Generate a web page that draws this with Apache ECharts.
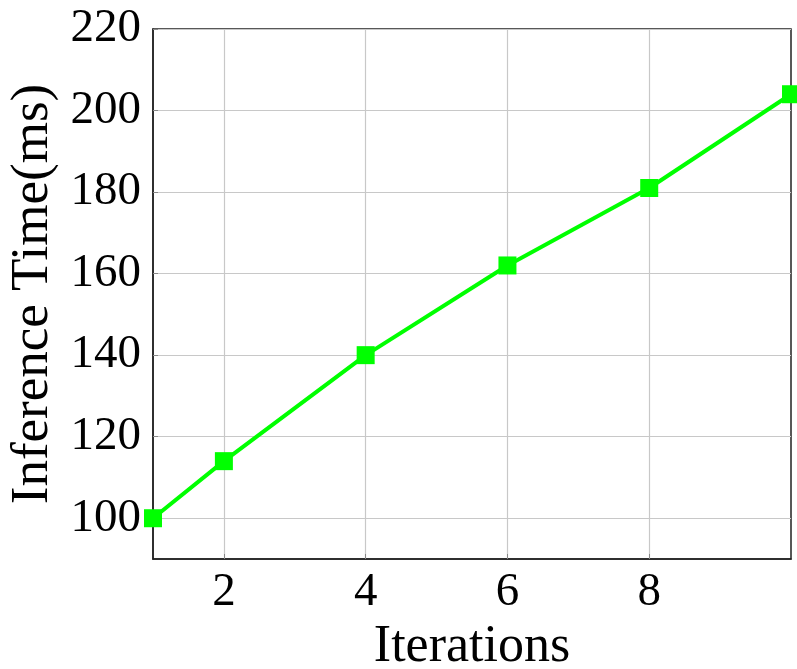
<!DOCTYPE html>
<html><head><meta charset="utf-8">
<script src="https://cdn.jsdelivr.net/npm/echarts@6/dist/echarts.min.js"></script>
<style>html,body{margin:0;padding:0;background:#fff}#c{width:797px;height:669px}</style>
</head><body><div id="c"></div>
<script>
const iterations = [1, 2, 4, 6, 8, 10];
const inferenceTime = [100, 114, 140, 162, 181, 204];
const xTicks = [2, 4, 6, 8];
const yTicks = [100, 120, 140, 160, 180, 200, 220];

const font = 'Liberation Serif';
const chart = echarts.init(document.getElementById('c'));
chart.setOption({
  animation: false,
  backgroundColor: '#fff',
  grid: { left: 153, right: 6, top: 29, bottom: 110, containLabel: false, outerBoundsMode: 'none', show: true, borderColor: '#222', borderWidth: 1.5, backgroundColor: 'transparent' },
  xAxis: {
    type: 'value', min: 1, max: 10,
    name: 'Iterations', nameLocation: 'middle', nameGap: 56,
    nameTextStyle: { fontFamily: font, fontSize: 52, color: '#000' },
    axisLine: { show: true, lineStyle: { color: '#222', width: 1.5 } },
    axisTick: { show: true, inside: true, length: 5, customValues: xTicks, lineStyle: { color: '#888' } },
    axisLabel: { customValues: xTicks, fontFamily: font, fontSize: 47, color: '#000', margin: 10 },
    splitLine: { show: true, lineStyle: { color: '#c8c8c8', width: 1.2 } }
  },
  yAxis: {
    type: 'value', min: 90, max: 220,
    name: 'Inference Time(ms)', nameLocation: 'middle', nameGap: 92,
    nameTextStyle: { fontFamily: font, fontSize: 53, color: '#000' },
    axisLine: { show: true, lineStyle: { color: '#222', width: 1.5 } },
    axisTick: { show: true, inside: true, length: 5, customValues: yTicks, lineStyle: { color: '#888' } },
    axisLabel: { customValues: yTicks, fontFamily: font, fontSize: 47, color: '#000', margin: 12 },
    splitLine: { show: true, lineStyle: { color: '#c8c8c8', width: 1.2 } }
  },
  series: [{
    type: 'line',
    data: iterations.map((x, i) => [x, inferenceTime[i]]),
    symbol: 'rect', symbolSize: 18,
    lineStyle: { color: '#00ff00', width: 4 },
    itemStyle: { color: '#00ff00' },
    clip: false
  }]
});
</script></body></html>
